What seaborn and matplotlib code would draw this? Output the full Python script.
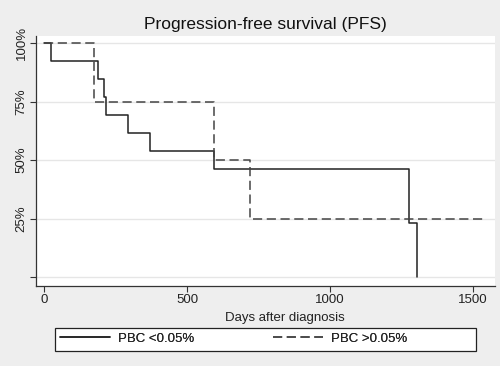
import matplotlib
matplotlib.use('Agg')
import matplotlib.pyplot as plt
from matplotlib.patches import Rectangle
import seaborn as sns
import pandas as pd

# Kaplan-Meier step values
days_low = [0, 23, 188, 211, 217, 293, 370, 595, 1276, 1304]
surv_low = [1.0, 0.923, 0.846, 0.769, 0.692, 0.615, 0.538, 0.462, 0.231, 0.0]
days_high = [0, 176, 595, 720, 1545]
surv_high = [1.0, 0.75, 0.5, 0.25, 0.25]
labels = ['PBC <0.05%', 'PBC >0.05%']

y_ticks = [0, 0.25, 0.5, 0.75, 1.0]
y_tick_labels = ['', '25%', '50%', '75%', '100%']
x_ticks = [0, 500, 1000, 1500]

sns.set_style('white')
plt.rcParams['font.family'] = ['Liberation Sans', 'DejaVu Sans']

df = pd.concat([
    pd.DataFrame({'Days': days_low, 'Survival': surv_low, 'Group': labels[0]}),
    pd.DataFrame({'Days': days_high, 'Survival': surv_high, 'Group': labels[1]}),
])

fig = plt.figure(figsize=(5, 3.66), dpi=100, facecolor='#eeeeee')
ax = fig.add_axes([0.072, 0.2186, 0.918, 0.683])
ax.set_facecolor('white')

for ytk in y_ticks:
    ax.axhline(ytk, color='#e6e6e6', lw=1.0, zorder=0)

sns.lineplot(data=df[df['Group'] == labels[0]], x='Days', y='Survival',
             drawstyle='steps-post', color='#222222', lw=1.1, ax=ax,
             label=labels[0], legend=False)
sns.lineplot(data=df[df['Group'] == labels[1]], x='Days', y='Survival',
             drawstyle='steps-post', color='#444444', lw=1.1, ls=(0, (6, 3)),
             ax=ax, label=labels[1], legend=False)

ax.set_xlim(-28, 1577)
ax.set_ylim(-0.038, 1.03)
ax.set_xticks(x_ticks)
ax.set_yticks(y_ticks)
ax.set_yticklabels(y_tick_labels, rotation=90, va='center')
ax.tick_params(axis='both', length=4, width=0.8, color='#333333',
               labelsize=9.5, labelcolor='#222222', direction='out', pad=2)
ax.tick_params(axis='x', bottom=True)
ax.tick_params(axis='y', left=True)

for side in ['top', 'right']:
    ax.spines[side].set_visible(False)
for side in ['left', 'bottom']:
    ax.spines[side].set_color('#333333')
    ax.spines[side].set_linewidth(0.9)

ax.set_xlabel('Days after diagnosis', fontsize=9.5, color='#222222', labelpad=1)
ax.xaxis.set_label_coords(0.542, -0.105)
ax.set_ylabel('')
ax.set_title('Progression-free survival (PFS)', fontsize=12.5, color='#111111', pad=5)

# legend: white box with two entries placed like the original
fig.add_artist(Rectangle((0.11, 0.041), 0.842, 0.063, transform=fig.transFigure,
                         facecolor='white', edgecolor='#222222', lw=0.9))
handles, _ = ax.get_legend_handles_labels()
for h, lab, xpos in zip(handles, labels, [0.12, 0.546]):
    leg = fig.legend([h], [lab], loc='center left', bbox_to_anchor=(xpos, 0.0738),
                     frameon=False, fontsize=9.5, handlelength=3.8,
                     borderpad=0, borderaxespad=0, handletextpad=0.6)
    fig.add_artist(leg)

fig.savefig('out.png', dpi=100, facecolor=fig.get_facecolor())
